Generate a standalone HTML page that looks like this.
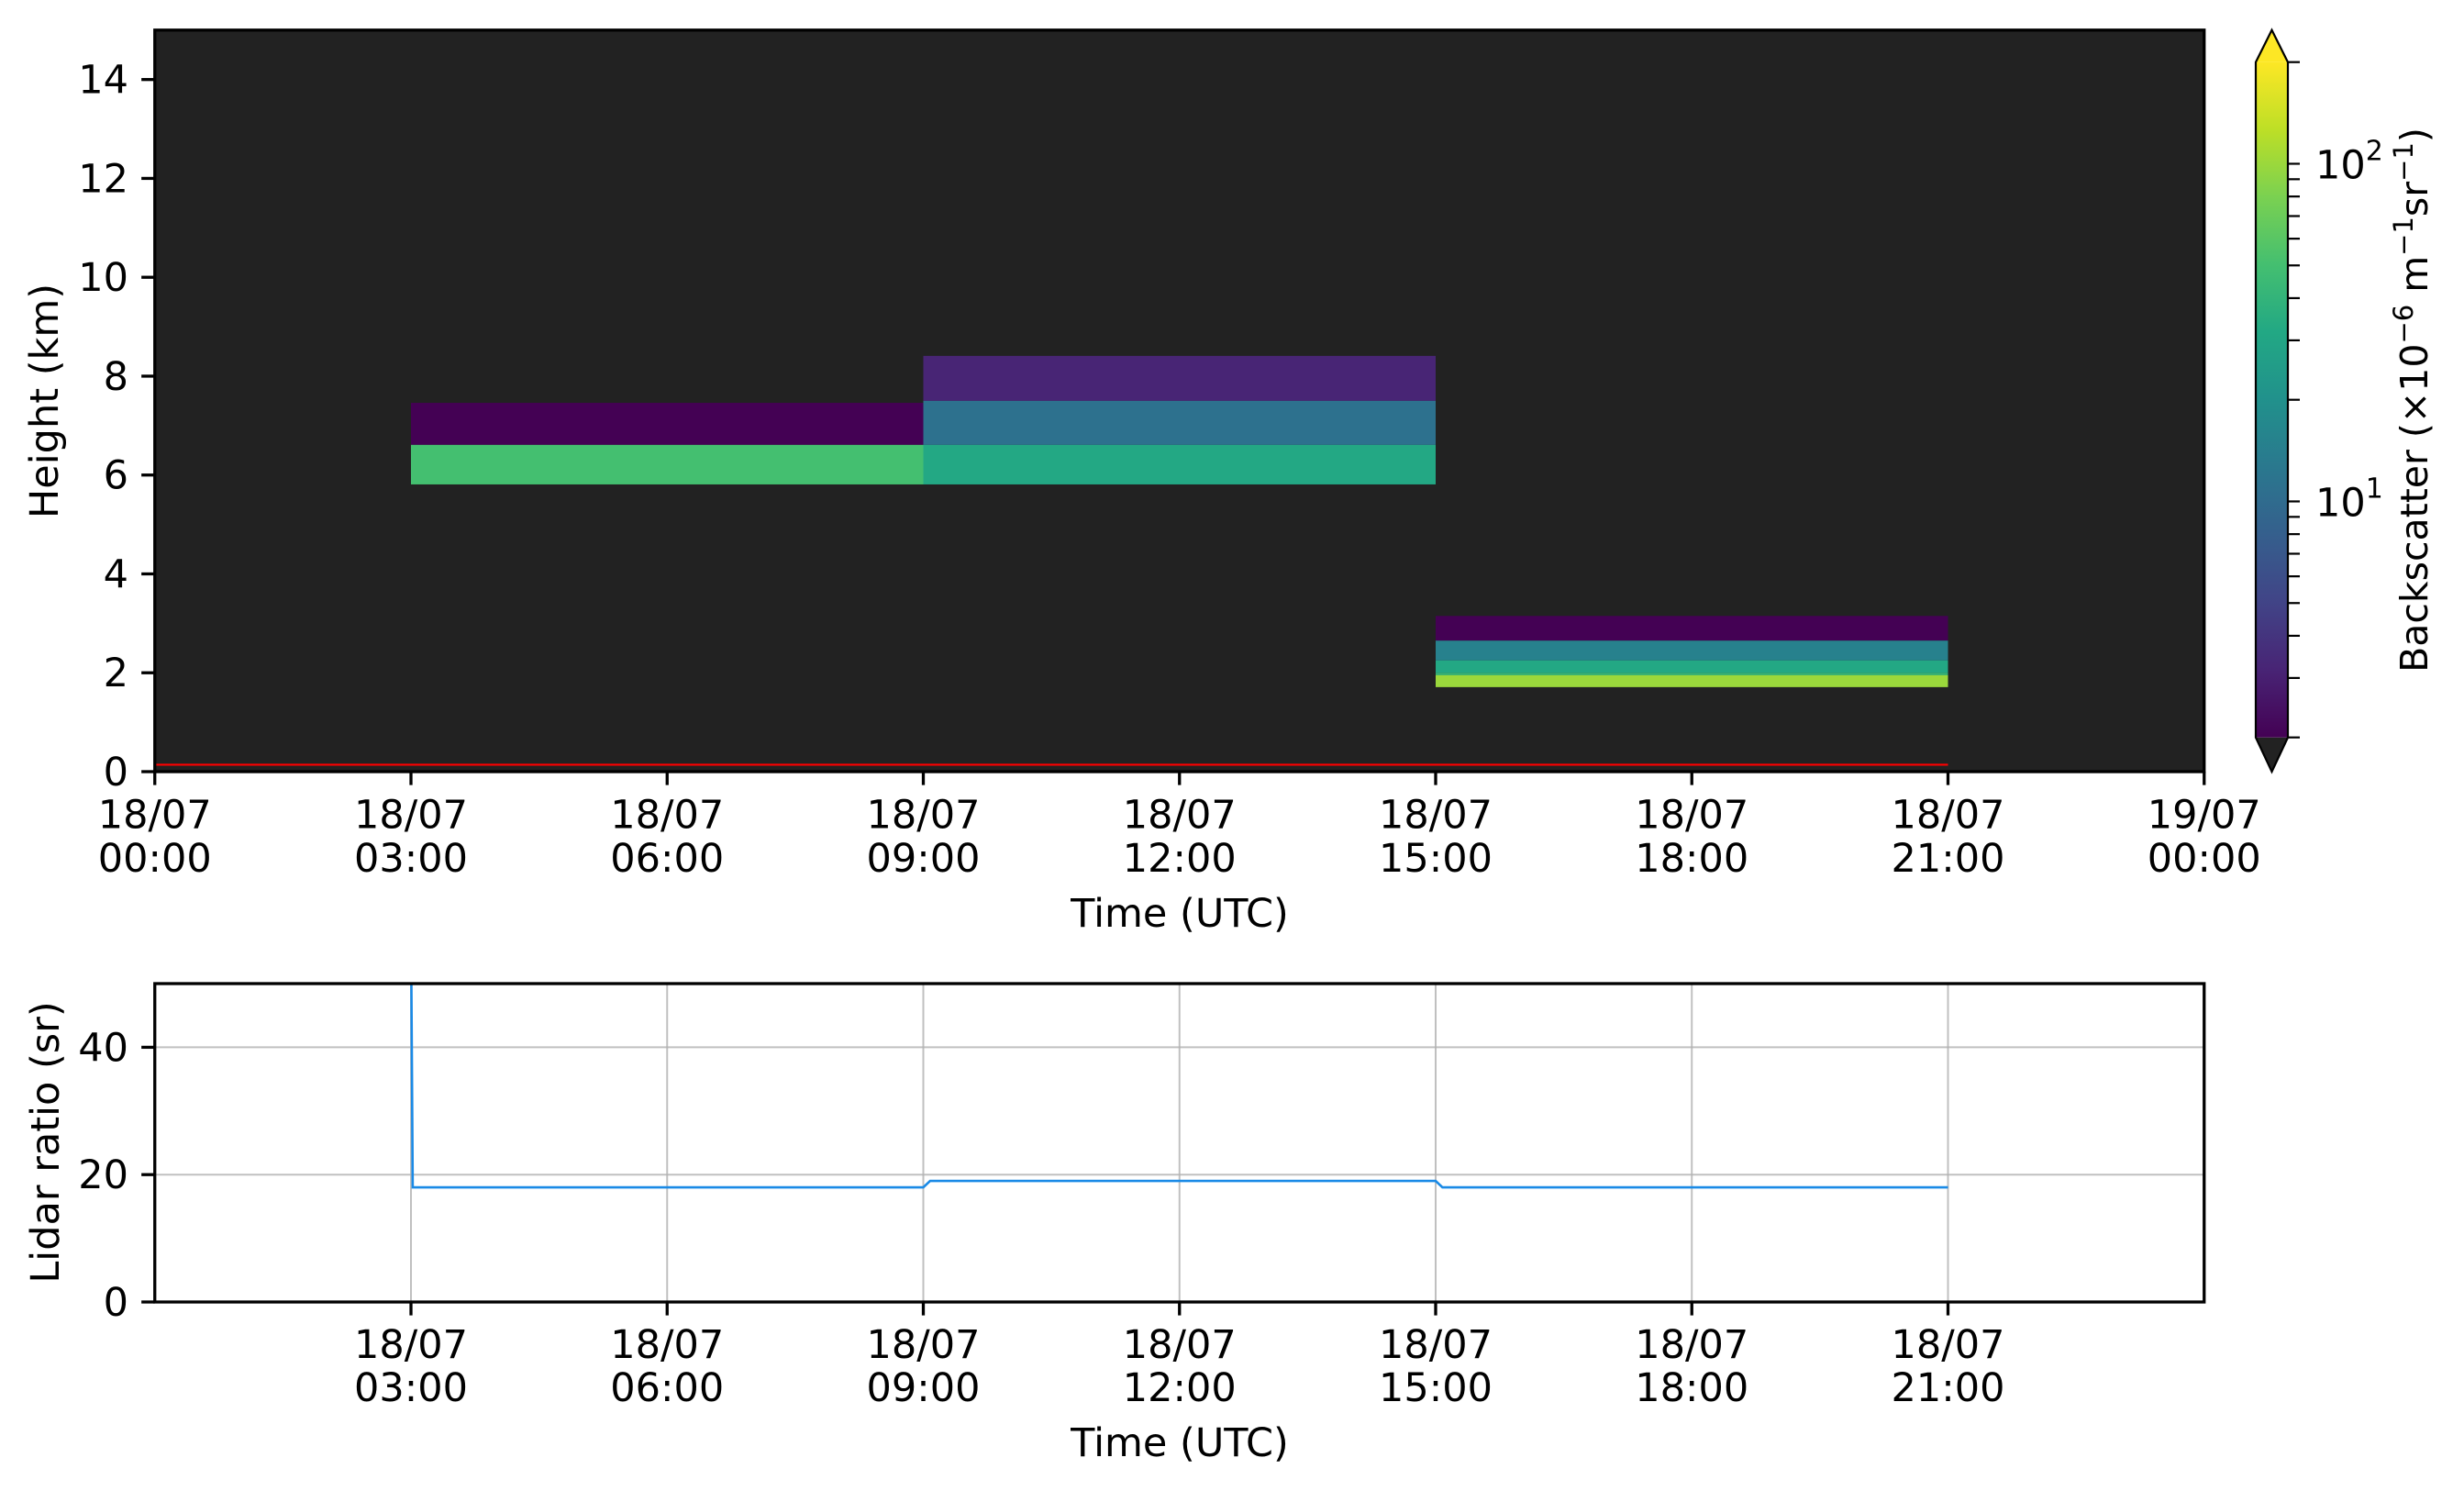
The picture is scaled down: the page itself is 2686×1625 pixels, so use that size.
<!DOCTYPE html>
<html><head><meta charset="utf-8"><style>
html,body{margin:0;padding:0;background:#fff;}
svg{display:block;font-family:"DejaVu Sans","Liberation Sans",sans-serif;}
</style></head><body>
<svg id="fig" width="2686" height="1625" viewBox="0 0 2686 1625" xmlns="http://www.w3.org/2000/svg">
<defs>
<clipPath id="clipTop"><rect x="168.75" y="32.8" width="2234" height="808.2"/></clipPath>
<clipPath id="clipBot"><rect x="168.75" y="1072" width="2234" height="347"/></clipPath>
<linearGradient id="viridis" x1="0" y1="1" x2="0" y2="0">
<stop offset="0" stop-color="#440154"/><stop offset="0.1" stop-color="#482475"/><stop offset="0.2" stop-color="#414487"/><stop offset="0.3" stop-color="#355f8d"/><stop offset="0.4" stop-color="#2a788e"/><stop offset="0.5" stop-color="#21918c"/><stop offset="0.6" stop-color="#22a884"/><stop offset="0.7" stop-color="#44bf70"/><stop offset="0.8" stop-color="#7ad151"/><stop offset="0.9" stop-color="#bddf26"/><stop offset="1" stop-color="#fde725"/>
</linearGradient>
</defs>
<g id="topPanel"></g>
<g id="cbar"></g>
<g id="botPanel"></g>
</svg>
<script>
// ---- heatmap data (hours, km, backscatter) ----
const cellT0 = [3, 3, 9, 9, 9, 15, 15, 15, 15, 15];
const cellT1 = [9, 9, 15, 15, 15, 21, 21, 21, 21, 21];
const cellH0 = [6.61, 5.81, 7.5, 6.61, 5.81, 2.65, 2.25, 2.0, 1.95, 1.71];
const cellH1 = [7.46, 6.61, 8.41, 7.5, 6.61, 3.15, 2.65, 2.25, 2.0, 1.95];
const cellV  = [2.0, 50, 3.2, 11, 32, 2.0, 15, 32, 42, 100];
const overlapT = [0, 21];
const overlapH = [0.14, 0.14];
const topYTicks = [0, 2, 4, 6, 8, 10, 12, 14];
const topXTicks = [0, 3, 6, 9, 12, 15, 18, 21, 24];
const topXDates = ["18/07","18/07","18/07","18/07","18/07","18/07","18/07","18/07","19/07"];
const topXTimes = ["00:00","03:00","06:00","09:00","12:00","15:00","18:00","21:00","00:00"];
// ---- lidar ratio data ----
const lrTime = [3.0, 3.02, 9.0, 9.08, 15.0, 15.08, 21.0];
const lrValue = [60, 18, 18, 19, 19, 18, 18];
const botXTicks = [3, 6, 9, 12, 15, 18, 21];
const botXDates = ["18/07","18/07","18/07","18/07","18/07","18/07","18/07"];
const botXTimes = ["03:00","06:00","09:00","12:00","15:00","18:00","21:00"];
const botYTicks = [0, 20, 40];
const cbMajor = [10, 100];
const cbMajorLabels = ["1", "2"];
const cbMinor = [3,4,5,6,7,8,9,20,30,40,50,60,70,80,90];

const NS = "http://www.w3.org/2000/svg";
function mk(parent, tag, attrs){const e=document.createElementNS(NS,tag);for(const k in attrs)e.setAttribute(k,attrs[k]);parent.appendChild(e);return e;}
const X0=168.75, X1=2402.75;
const xT = h => X0 + (X1-X0)*h/24;
const yTop = v => 841 - 53.88*v;
const yBot = v => 1419 - 6.94*v;
const VMIN=2, VMAX=200, CB_T=67.7, CB_B=803.7;
const normV = v => Math.max(0,Math.min(1,(Math.log10(v)-Math.log10(VMIN))/(Math.log10(VMAX)-Math.log10(VMIN))));
const yCb = v => CB_B - (CB_B-CB_T)*normV(v);
const VIR=["#440154","#482475","#414487","#355f8d","#2a788e","#21918c","#22a884","#44bf70","#7ad151","#bddf26","#fde725"];
function hexc(c){return [1,3,5].map(i=>parseInt(c.substr(i,2),16));}
function viridis(t){const p=t*10,i=Math.min(9,Math.floor(p)),f=p-i;const a=hexc(VIR[i]),b=hexc(VIR[i+1]);return "rgb("+a.map((x,k)=>Math.round(x+(b[k]-x)*f)).join(",")+")";}

// ---- top panel ----
const topPanel=document.getElementById("topPanel");
let bgr=mk(topPanel,"rect",{x:X0,y:32.8,width:X1-X0,height:808.2,fill:"#222222"});


const cellsG=mk(topPanel,"g",{"clip-path":"url(#clipTop)"});


for(let i=0;i<cellV.length;i++){
  const r=mk(cellsG,"rect",{x:xT(cellT0[i]),y:yTop(cellH1[i]),width:xT(cellT1[i])-xT(cellT0[i]),height:yTop(cellH0[i])-yTop(cellH1[i]),fill:viridis(normV(cellV[i]))});
  
  
}
const redLine=mk(topPanel,"line",{x1:xT(overlapT[0]),y1:yTop(overlapH[0]),x2:xT(overlapT[1]),y2:yTop(overlapH[1]),stroke:"#ff0000","stroke-width":2.2});


const frameT=mk(topPanel,"rect",{x:X0,y:32.8,width:X1-X0,height:808.2,fill:"none",stroke:"#000","stroke-width":3.3});


topYTicks.forEach(v=>{
  const y=yTop(v);
  mk(topPanel,"line",{x1:X0-14.6,x2:X0,y1:y,y2:y,stroke:"#000","stroke-width":3.3});
  const t=mk(topPanel,"text",{x:140,y:y+15,"font-size":43,"text-anchor":"end"});
  t.textContent=v;
  
  
});
topXTicks.forEach((h,i)=>{
  const x=xT(h);
  mk(topPanel,"line",{x1:x,x2:x,y1:841,y2:855.6,stroke:"#000","stroke-width":3.3});
  const t=mk(topPanel,"text",{x:x,y:902.7,"font-size":43,"text-anchor":"middle"});
  t.textContent=topXDates[i];
  
  
  const t2=mk(topPanel,"text",{x:x,y:950,"font-size":43,"text-anchor":"middle"});
  t2.textContent=topXTimes[i];
  
  
});
let lab=mk(topPanel,"text",{x:1286,y:1010,"font-size":43,"text-anchor":"middle"});
lab.textContent="Time (UTC)";


lab=mk(topPanel,"text",{x:0,y:15,"font-size":43,"text-anchor":"middle",transform:"translate(48,437) rotate(-90)"});
lab.textContent="Height (km)";



// ---- colorbar ----
const cb=document.getElementById("cbar");
const CX0=2459, CX1=2494, CXM=(CX0+CX1)/2;
let el=mk(cb,"polygon",{points:`${CX0},${CB_T} ${CXM},32.7 ${CX1},${CB_T}`,fill:"#fde725"});


el=mk(cb,"polygon",{points:`${CX0},${CB_B} ${CXM},841 ${CX1},${CB_B}`,fill:"#222222"});


el=mk(cb,"rect",{x:CX0,y:CB_T,width:CX1-CX0,height:CB_B-CB_T,fill:"url(#viridis)"});


mk(cb,"polygon",{points:`${CX0},${CB_T} ${CXM},32.7 ${CX1},${CB_T} ${CX1},${CB_B} ${CXM},841 ${CX0},${CB_B}`,fill:"none",stroke:"#000","stroke-width":2.2});
cbMinor.forEach(v=>{const y=yCb(v);mk(cb,"line",{x1:CX1,x2:CX1+13,y1:y,y2:y,stroke:"#000","stroke-width":2.2});});
mk(cb,"line",{x1:CX1,x2:CX1+13,y1:CB_T,y2:CB_T,stroke:"#000","stroke-width":2.2});
mk(cb,"line",{x1:CX1,x2:CX1+13,y1:CB_B,y2:CB_B,stroke:"#000","stroke-width":2.2});
cbMajor.forEach((v,i)=>{
  const y=yCb(v);
  mk(cb,"line",{x1:CX1,x2:CX1+13,y1:y,y2:y,stroke:"#000","stroke-width":2.2});
  const t=mk(cb,"text",{x:2524,y:y+16,"font-size":43});
  const s0=mk(t,"tspan",{});
  s0.textContent="10";
  const s=mk(t,"tspan",{dy:-20,"font-size":30});
  s.textContent=cbMajorLabels[i];
  
  
});
lab=mk(cb,"text",{x:0,y:14,"font-size":41,"text-anchor":"middle",transform:"translate(2632,436) rotate(-90)"});
const parts=[["Backscatter (×10",0,41],["−6",-16,29],[" m",16,41],["−1",-16,29],["sr",16,41],["−1",-16,29],[")",16,41]];
parts.forEach(p=>{const s=mk(lab,"tspan",{dy:p[1],"font-size":p[2]});s.textContent=p[0];});



// ---- bottom panel ----
const botPanel=document.getElementById("botPanel");
botXTicks.forEach(h=>{const x=xT(h);mk(botPanel,"line",{x1:x,x2:x,y1:1072,y2:1419,stroke:"#b0b0b0","stroke-width":2,"stroke-opacity":0.8});});
botYTicks.forEach(v=>{const y=yBot(v);mk(botPanel,"line",{x1:X0,x2:X1,y1:y,y2:y,stroke:"#b0b0b0","stroke-width":2,"stroke-opacity":0.8});});
const pts=lrTime.map((t,i)=>xT(t).toFixed(1)+","+yBot(lrValue[i]).toFixed(1)).join(" ");
const lrLine=mk(botPanel,"polyline",{points:pts,fill:"none",stroke:"#1a8ae6","stroke-width":2.6,"clip-path":"url(#clipBot)"});


el=mk(botPanel,"rect",{x:X0,y:1072,width:X1-X0,height:347,fill:"none",stroke:"#000","stroke-width":3.3});


botYTicks.forEach(v=>{
  const y=yBot(v);
  mk(botPanel,"line",{x1:X0-14.6,x2:X0,y1:y,y2:y,stroke:"#000","stroke-width":3.3});
  const t=mk(botPanel,"text",{x:140,y:y+15,"font-size":43,"text-anchor":"end"});
  t.textContent=v;
  
  
});
botXTicks.forEach((h,i)=>{
  const x=xT(h);
  mk(botPanel,"line",{x1:x,x2:x,y1:1419,y2:1433.6,stroke:"#000","stroke-width":3.3});
  const t=mk(botPanel,"text",{x:x,y:1480,"font-size":43,"text-anchor":"middle"});
  t.textContent=botXDates[i];
  
  
  const t2=mk(botPanel,"text",{x:x,y:1527,"font-size":43,"text-anchor":"middle"});
  t2.textContent=botXTimes[i];
  
  
});
lab=mk(botPanel,"text",{x:1286,y:1587,"font-size":43,"text-anchor":"middle"});
lab.textContent="Time (UTC)";


lab=mk(botPanel,"text",{x:0,y:15,"font-size":43,"text-anchor":"middle",transform:"translate(49,1245) rotate(-90)"});
lab.textContent="Lidar ratio (sr)";


</script>
</body></html>
